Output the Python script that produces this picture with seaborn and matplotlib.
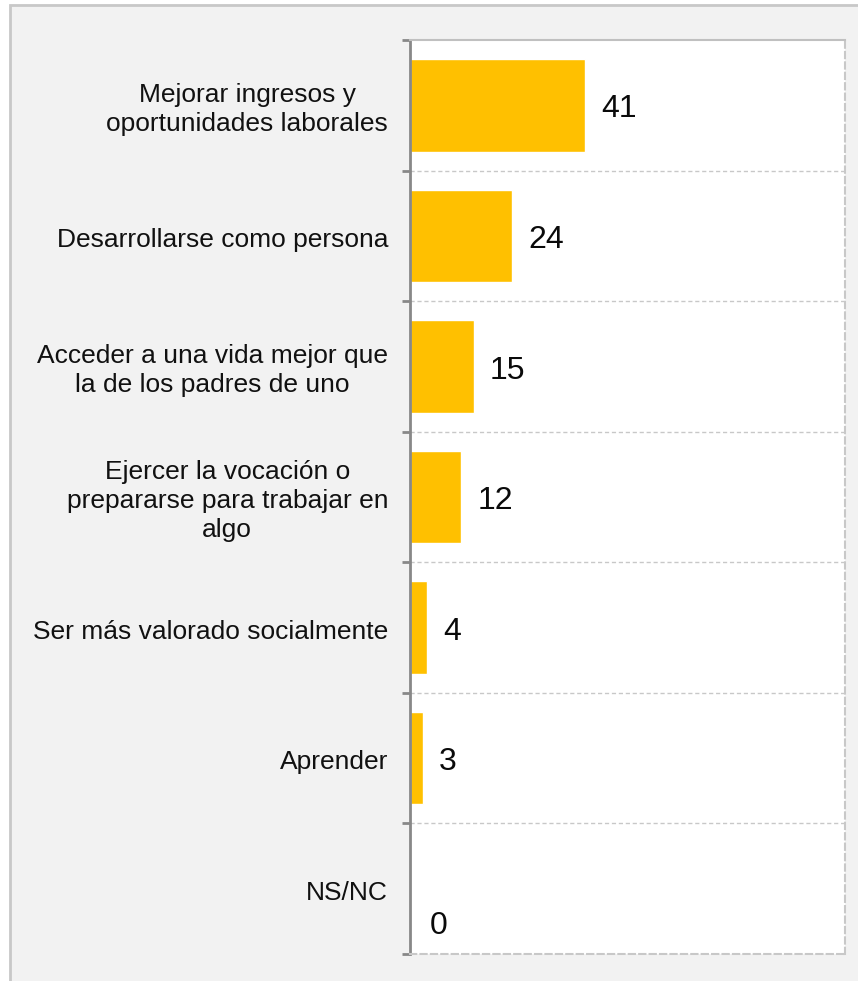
import matplotlib
matplotlib.use("Agg")
import matplotlib.pyplot as plt
from matplotlib.patches import Rectangle
import seaborn as sns
import pandas as pd

categories = [
    "Mejorar ingresos y\noportunidades laborales",
    "Desarrollarse como persona",
    "Acceder a una vida mejor que\nla de los padres de uno",
    "Ejercer la vocación o\nprepararse para trabajar en\nalgo",
    "Ser más valorado socialmente",
    "Aprender",
    "NS/NC",
]
values = [41, 24, 15, 12, 4, 3, 0]

sns.set_theme(style="white")
plt.rcParams["font.family"] = ["Liberation Sans", "DejaVu Sans"]

W, H = 858, 981
fig = plt.figure(figsize=(W / 100, H / 100), dpi=100, facecolor="white")

# figure panel background with border on left/top
bg = Rectangle((10 / W, -0.05), 1.1, 1 - 5 / H + 0.05, transform=fig.transFigure,
               facecolor="#f2f2f2", edgecolor="#c8c8c8", linewidth=2, zorder=-10)
fig.add_artist(bg)

left, right, top, bottom = 410, 845, 40, 954
ax = fig.add_axes([left / W, 1 - bottom / H, (right - left) / W, (bottom - top) / H])
ax.set_facecolor("white")

df = pd.DataFrame({"cat": categories, "val": values})
sns.barplot(data=df, y="cat", x="val", orient="h", color="#FFC000",
            saturation=1, width=0.71, ax=ax)

n = len(categories)
ax.set_xlim(0, 102)
ax.set_ylim(n - 0.5, -0.5)
ax.set_xlabel("")
ax.set_ylabel("")
ax.set_xticks([])

bounds = [k - 0.5 for k in range(n + 1)]
ax.set_yticks(bounds)
ax.set_yticklabels([])
ax.tick_params(axis="y", which="major", length=6, width=2, color="#888888", left=True, direction="out")
for b in bounds[1:-1]:
    ax.axhline(b, color="#c8c8c8", linestyle=(0, (3, 2)), linewidth=1, zorder=0)

ax.spines["left"].set_color("#888888")
ax.spines["left"].set_linewidth(2)
ax.spines["top"].set_color("#c0c0c0")
ax.spines["top"].set_linewidth(1.5)
for s in ["right", "bottom"]:
    ax.spines[s].set_color("#c8c8c8")
    ax.spines[s].set_linewidth(1.5)
    ax.spines[s].set_linestyle((0, (3, 2)))

# category labels
for i, c in enumerate(categories):
    ax.annotate(c, xy=(0, i), xycoords=("axes fraction", "data"),
                xytext=(-15.8, -3), textcoords="offset points",
                ha="right", va="center", multialignment="center",
                fontsize=19, color="#111111", linespacing=1.25)

# value labels
for i, v in enumerate(values):
    dy = -27 if v == 0 else -3
    dx = 14.5 if v == 0 else 11.5
    ax.annotate(f"{v}", xy=(v, i), xycoords="data",
                xytext=(dx, dy), textcoords="offset points",
                ha="left", va="center", fontsize=23, color="#0a0a0a")

fig.savefig("out.png", dpi=100, facecolor=fig.get_facecolor())
